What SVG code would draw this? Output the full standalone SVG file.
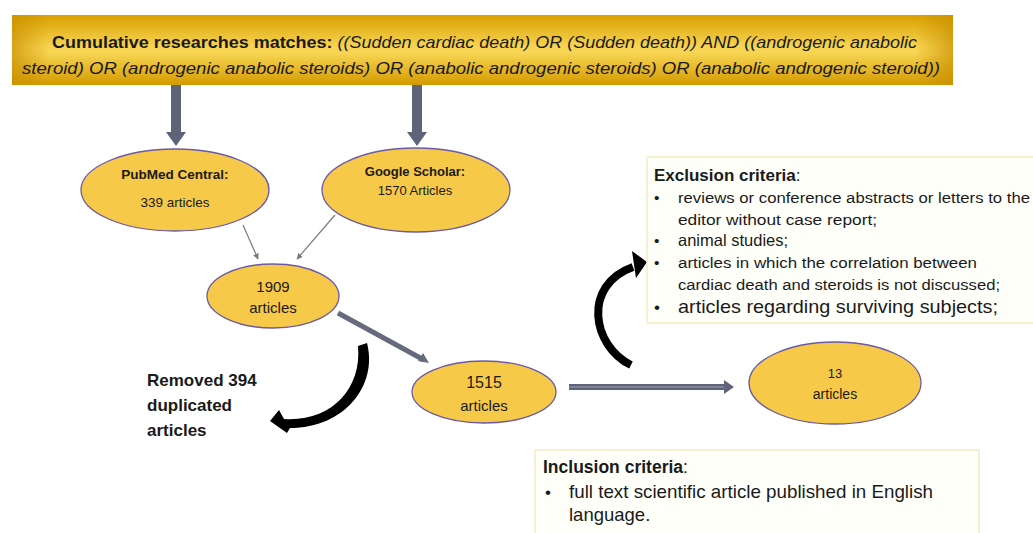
<svg xmlns="http://www.w3.org/2000/svg" width="1033" height="533" viewBox="0 0 1033 533">
<defs>
<linearGradient id="hdr" x1="0" y1="0" x2="0" y2="1">
<stop offset="0" stop-color="#d9a000"/>
<stop offset="0.45" stop-color="#f7d451"/>
<stop offset="0.55" stop-color="#f7d451"/>
<stop offset="1" stop-color="#d39a00"/>
</linearGradient>
<linearGradient id="hdrx" x1="0" y1="0" x2="1" y2="0">
<stop offset="0" stop-color="#c98f00" stop-opacity="0.7"/>
<stop offset="0.04" stop-color="#c98f00" stop-opacity="0"/>
<stop offset="0.96" stop-color="#c98f00" stop-opacity="0"/>
<stop offset="1" stop-color="#c98f00" stop-opacity="0.7"/>
</linearGradient>
<marker id="thin" viewBox="0 0 10 10" refX="9" refY="5" markerWidth="6" markerHeight="6" orient="auto" markerUnits="userSpaceOnUse">
<path d="M0,0 L10,5 L0,10 Z" fill="#7a7a7a"/>
</marker>
</defs>
<style>
.t{font-family:"Liberation Sans",Arial,sans-serif;fill:#1a1a1a}
.b{font-weight:bold}
.i{font-style:italic}
.node ellipse{fill:#f7c948;stroke:#6a5aa8;stroke-width:1.3}
.box{fill:#fffffa;stroke:#f2edc4;stroke-width:1.5}
.thick{fill:#5d6478}
</style>
<rect width="1033" height="533" fill="#ffffff"/>

<g id="header">
<rect x="12" y="15" width="941" height="70" fill="url(#hdr)"/>
<rect x="12" y="15" width="941" height="70" fill="url(#hdrx)"/>
<text class="t" x="52" y="48" font-size="17" textLength="865" lengthAdjust="spacingAndGlyphs"><tspan class="b">Cumulative researches matches: </tspan><tspan class="i">((Sudden cardiac death) OR (Sudden death)) AND ((androgenic anabolic</tspan></text>
<text class="t i" x="22" y="74" font-size="17" textLength="918" lengthAdjust="spacingAndGlyphs">steroid) OR (androgenic anabolic steroids) OR (anabolic androgenic steroids) OR (anabolic androgenic steroid))</text>
</g>

<g id="connectors">
<path class="thick" d="M171,85 H181 V132 H186 L176,146 L166,132 H171 Z"/>
<path class="thick" d="M412,85 H422 V132 H427 L417,146 L407,132 H412 Z"/>
<line x1="243" y1="225" x2="258" y2="259" stroke="#7a7a7a" stroke-width="1.2" marker-end="url(#thin)"/>
<line x1="335" y1="215" x2="297" y2="259" stroke="#7a7a7a" stroke-width="1.2" marker-end="url(#thin)"/>
<line x1="338" y1="313" x2="424" y2="360" stroke="#656b7c" stroke-width="5"/>
<path d="M429,363 L418,361 L423,353 Z" fill="#656b7c"/>
<line x1="569" y1="387" x2="726" y2="387" stroke="#5f6479" stroke-width="6"/>
<line x1="569" y1="387" x2="726" y2="387" stroke="#8a8ea0" stroke-width="1.5"/>
<path d="M734,387 L724,380 L724,394 Z" fill="#5f6479"/>
<path d="M358,346 L367,343 C378,385 345,428 290,428 L287,433 L270,421 L279,410 L284,419 C330,422 362,390 358,346 Z" fill="#000"/>
<path d="M631,365 C592,346 582,285 633,267" fill="none" stroke="#000" stroke-width="8"/>
<path d="M647,262 L632,251 L636,278 Z" fill="#000"/>
</g>

<g id="pubmed" class="node">
<ellipse cx="175" cy="190" rx="94" ry="41"/>
<text class="t b" x="175" y="179" font-size="13.5" text-anchor="middle">PubMed Central:</text>
<text class="t" x="175" y="207" font-size="13.5" text-anchor="middle">339 articles</text>
</g>

<g id="scholar" class="node">
<ellipse cx="416" cy="190" rx="94" ry="42"/>
<text class="t b" x="415" y="176" font-size="13" text-anchor="middle">Google Scholar:</text>
<text class="t" x="415" y="195" font-size="13" text-anchor="middle">1570 Articles</text>
</g>

<g id="n1909" class="node">
<ellipse cx="273" cy="296" rx="66" ry="32"/>
<text class="t" x="273" y="292" font-size="15" text-anchor="middle">1909</text>
<text class="t" x="273" y="313" font-size="15" text-anchor="middle">articles</text>
</g>

<g id="removed">
<text class="t b" x="147" y="386" font-size="17">Removed 394</text>
<text class="t b" x="147" y="411" font-size="17">duplicated</text>
<text class="t b" x="147" y="436" font-size="17">articles</text>
</g>

<g id="n1515" class="node">
<ellipse cx="484" cy="392" rx="72" ry="31"/>
<text class="t" x="484" y="388" font-size="16" text-anchor="middle">1515</text>
<text class="t" x="484" y="411" font-size="15" text-anchor="middle">articles</text>
</g>

<g id="n13" class="node">
<ellipse cx="835" cy="383" rx="86" ry="41"/>
<text class="t" x="835" y="378" font-size="13" text-anchor="middle">13</text>
<text class="t" x="835" y="399" font-size="14" text-anchor="middle">articles</text>
</g>

<g id="exclusion">
<rect class="box" x="647" y="157" width="400" height="166"/>
<text class="t" x="654" y="181" font-size="17"><tspan class="b">Exclusion criteria</tspan>:</text>
<g font-size="15.5">
<text class="t" x="654" y="203">•</text><text class="t" x="678" y="203" textLength="352" lengthAdjust="spacingAndGlyphs">reviews or conference abstracts or letters to the</text>
<text class="t" x="678" y="225" textLength="199" lengthAdjust="spacingAndGlyphs">editor without case report;</text>
<text class="t" x="654" y="246">•</text><text class="t" x="678" y="246" font-size="16.5">animal studies;</text>
<text class="t" x="654" y="268">•</text><text class="t" x="678" y="268" textLength="299" lengthAdjust="spacingAndGlyphs">articles in which the correlation between</text>
<text class="t" x="678" y="290" textLength="322" lengthAdjust="spacingAndGlyphs">cardiac death and steroids is not discussed;</text>
</g>
<text class="t" x="654" y="313" font-size="17">•</text><text class="t" x="678" y="313" font-size="18.5" textLength="320" lengthAdjust="spacingAndGlyphs">articles regarding surviving subjects;</text>
</g>

<g id="inclusion">
<rect class="box" x="535" y="450" width="444" height="90"/>
<text class="t" x="543" y="473" font-size="17.5"><tspan class="b">Inclusion criteria</tspan>:</text>
<text class="t" x="545" y="498" font-size="17">•</text><text class="t" x="569" y="498" font-size="18.5" textLength="364" lengthAdjust="spacingAndGlyphs">full text scientific article published in English</text>
<text class="t" x="569" y="521" font-size="18.5">language.</text>
</g>
</svg>
